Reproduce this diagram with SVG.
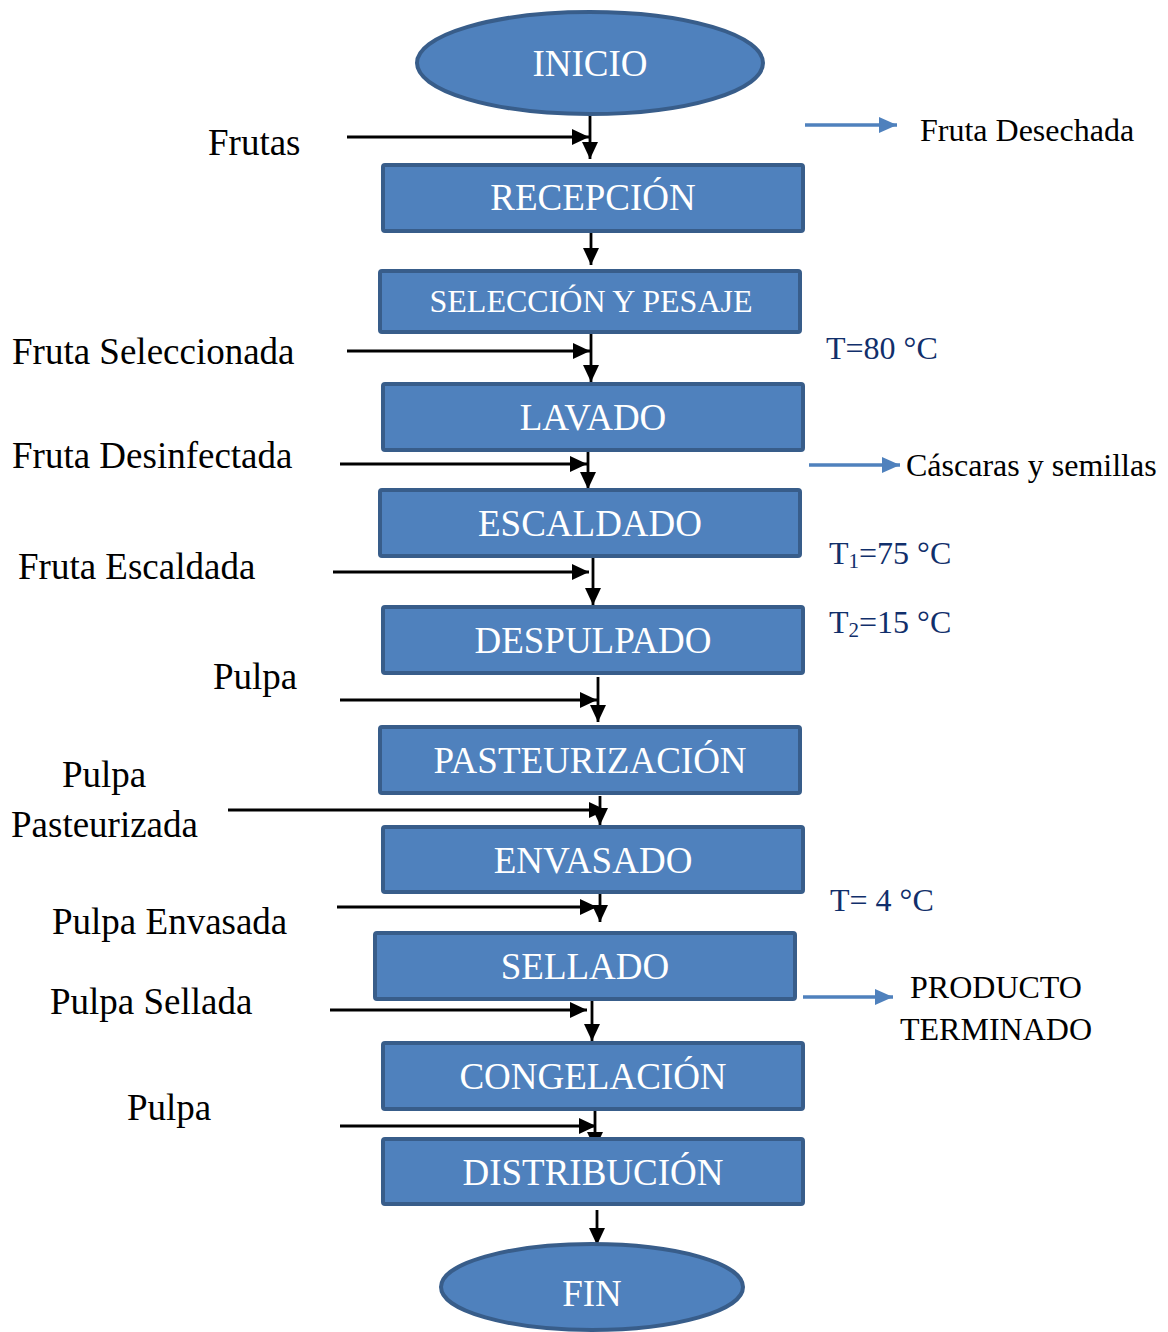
<svg xmlns="http://www.w3.org/2000/svg" width="1168" height="1332" viewBox="0 0 1168 1332">
<style>
.node{fill:#4F81BD;stroke:#385D8A;stroke-width:4}
.nt{font-family:"Liberation Serif","Times New Roman",serif;font-size:37px;fill:#fff;text-anchor:middle}
.lbl{font-family:"Liberation Serif","Times New Roman",serif;font-size:37px;fill:#000}
.rl{font-family:"Liberation Serif","Times New Roman",serif;font-size:32px;fill:#000}
.tl{font-family:"Liberation Serif","Times New Roman",serif;font-size:32px;fill:#112F6B}
.k{stroke:#000;stroke-width:2.8;fill:none;marker-end:url(#ah)}
.b{stroke:#4F81BD;stroke-width:3.5;fill:none;marker-end:url(#bh)}
</style>
<defs>
<marker id="ah" markerUnits="userSpaceOnUse" markerWidth="18" markerHeight="18" refX="17" refY="8" orient="auto"><path d="M0,0 L17,8 L0,16 Z" fill="#000"/></marker>
<marker id="bh" markerUnits="userSpaceOnUse" markerWidth="20" markerHeight="20" refX="18" refY="8" orient="auto"><path d="M0,0 L18,8 L0,16 Z" fill="#4F81BD"/></marker>
</defs>
<rect width="1168" height="1332" fill="#fff"/>
<g id="connectors">
<path class="k" d="M590,115 V159"/>
<path class="k" d="M347,137 H589"/>
<path class="k" d="M591,233 V265"/>
<path class="k" d="M591,333 V382"/>
<path class="k" d="M347,351 H590"/>
<path class="k" d="M588,452 V489"/>
<path class="k" d="M340,464 H587"/>
<path class="k" d="M593,558 V605"/>
<path class="k" d="M333,572 H589"/>
<path class="k" d="M598,677 V722"/>
<path class="k" d="M340,700 H597"/>
<path class="k" d="M600,796 V825"/>
<path class="k" d="M228,810 H606"/>
<path class="k" d="M600,894 V922"/>
<path class="k" d="M337,907 H597"/>
<path class="k" d="M592,1001 V1041"/>
<path class="k" d="M330,1010 H587"/>
<path class="k" d="M595,1110 V1149"/>
<path class="k" d="M340,1126 H596"/>
<path class="k" d="M597,1210 V1245"/>
<path class="b" d="M805,125 H897"/>
<path class="b" d="M809,465 H900"/>
<path class="b" d="M803,997 H893"/>
</g>
<g id="n-inicio"><ellipse class="node" cx="590" cy="63" rx="173" ry="51"/><text class="nt" x="590" y="76">INICIO</text></g>
<g id="n-recepcion"><rect class="node" x="383" y="165" width="420" height="66" rx="2"/><text class="nt" x="593" y="210">RECEPCIÓN</text></g>
<g id="n-seleccion"><rect class="node" x="380" y="271" width="420" height="61" rx="2"/><text class="nt" x="591" y="312" style="font-size:32px">SELECCIÓN Y PESAJE</text></g>
<g id="n-lavado"><rect class="node" x="383" y="384" width="420" height="66" rx="2"/><text class="nt" x="593" y="430">LAVADO</text></g>
<g id="n-escaldado"><rect class="node" x="380" y="490" width="420" height="66" rx="2"/><text class="nt" x="590" y="536">ESCALDADO</text></g>
<g id="n-despulpado"><rect class="node" x="383" y="607" width="420" height="66" rx="2"/><text class="nt" x="593" y="653">DESPULPADO</text></g>
<g id="n-pasteurizacion"><rect class="node" x="380" y="727" width="420" height="66" rx="2"/><text class="nt" x="590" y="773">PASTEURIZACIÓN</text></g>
<g id="n-envasado"><rect class="node" x="383" y="827" width="420" height="65" rx="2"/><text class="nt" x="593" y="873">ENVASADO</text></g>
<g id="n-sellado"><rect class="node" x="375" y="933" width="420" height="66" rx="2"/><text class="nt" x="585" y="979">SELLADO</text></g>
<g id="n-congelacion"><rect class="node" x="383" y="1043" width="420" height="66" rx="2"/><text class="nt" x="593" y="1089">CONGELACIÓN</text></g>
<g id="n-distribucion"><rect class="node" x="383" y="1139" width="420" height="65" rx="2"/><text class="nt" x="593" y="1185">DISTRIBUCIÓN</text></g>
<g id="n-fin"><ellipse class="node" cx="592" cy="1287" rx="151" ry="43"/><text class="nt" x="592" y="1306">FIN</text></g>
<g id="labels">
<text class="lbl" x="208" y="155">Frutas</text>
<text class="lbl" x="12" y="364">Fruta Seleccionada</text>
<text class="lbl" x="12" y="468">Fruta Desinfectada</text>
<text class="lbl" x="18" y="579">Fruta Escaldada</text>
<text class="lbl" x="213" y="689">Pulpa</text>
<text class="lbl" x="62" y="787">Pulpa</text>
<text class="lbl" x="11" y="837">Pasteurizada</text>
<text class="lbl" x="52" y="934">Pulpa Envasada</text>
<text class="lbl" x="50" y="1014">Pulpa Sellada</text>
<text class="lbl" x="127" y="1120">Pulpa</text>
<text class="rl" x="920" y="141">Fruta Desechada</text>
<text class="rl" x="906" y="476">Cáscaras y semillas</text>
<text class="rl" x="996" y="998" text-anchor="middle">PRODUCTO</text>
<text class="rl" x="996" y="1040" text-anchor="middle">TERMINADO</text>
<text class="tl" x="826" y="359">T=80 °C</text>
<text class="tl" x="829" y="564">T<tspan font-size="21" dy="4">1</tspan><tspan dy="-4">=75 °C</tspan></text>
<text class="tl" x="829" y="633">T<tspan font-size="21" dy="4">2</tspan><tspan dy="-4">=15 °C</tspan></text>
<text class="tl" x="830" y="911">T= 4 °C</text>
</g>
</svg>
